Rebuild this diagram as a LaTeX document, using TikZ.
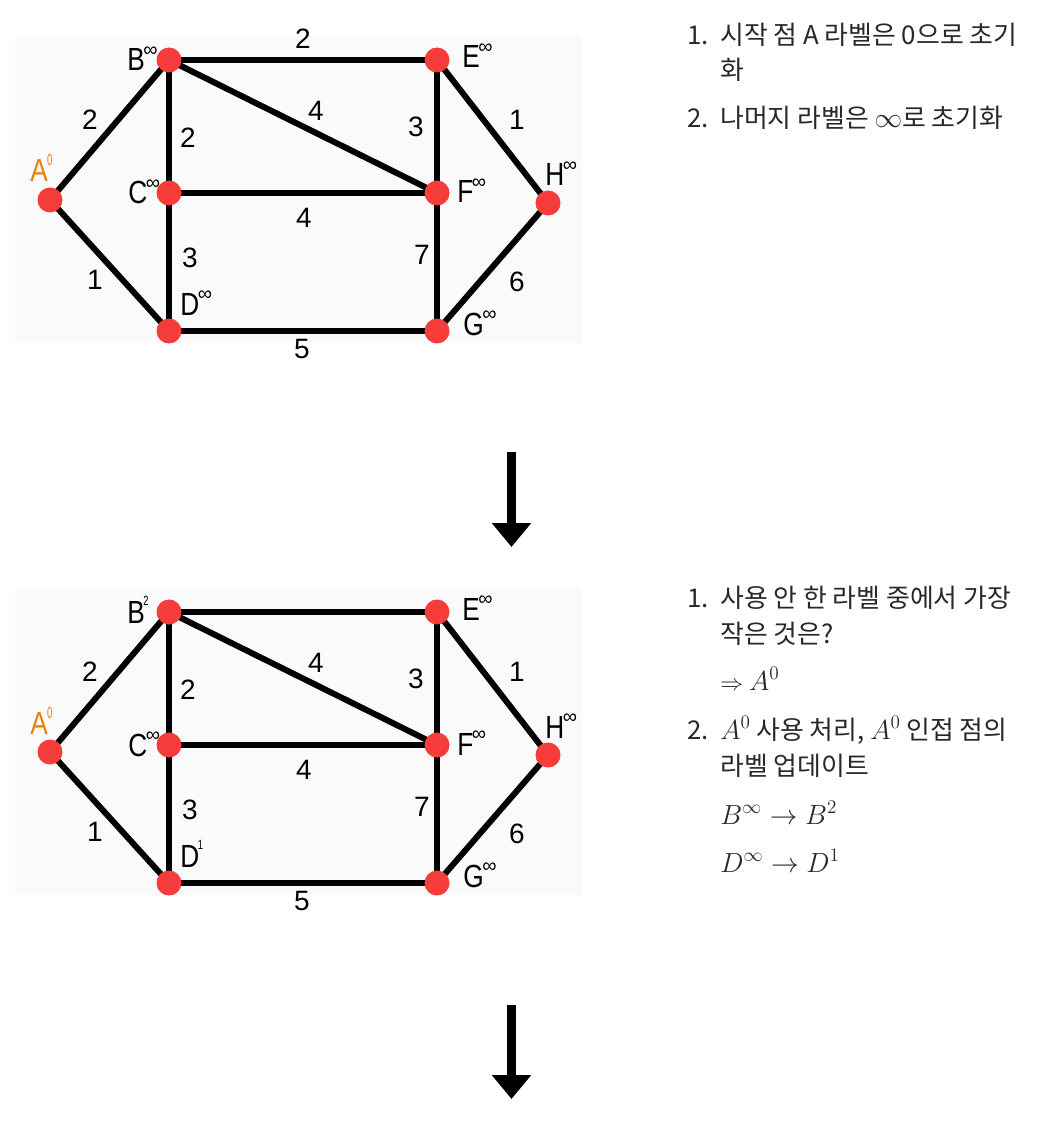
\documentclass[tikz,border=0pt]{standalone}
\usepackage{fontspec}
\usepackage{graphicx}
\usepackage{tikz}
\usetikzlibrary{arrows.meta,positioning,backgrounds}

\newfontfamily\gfont{Liberation Sans}
\newfontfamily\kfont{Noto Sans CJK KR}

\definecolor{vred}{RGB}{246,61,59}
\definecolor{aorange}{RGB}{232,130,14}
\definecolor{panelbg}{RGB}{250,250,250}
\definecolor{txtgray}{RGB}{40,40,40}

% vertex letter (narrowed) and the small raised marks beside it
\newcommand\vl[1]{\scalebox{0.82}[1]{#1}}
\newcommand\sinf{\kern-1pt\raisebox{11pt}{\fontsize{15}{15}\selectfont ∞}}
\newcommand\snum[1]{\kern-1pt\raisebox{13pt}{\fontsize{10}{10}\selectfont\scalebox{0.7}[1]{#1}}}
% math in the notes is set larger than the text
\newcommand\mth[1]{{\fontsize{20.74}{26}\selectfont$#1$}}

\begin{document}
\begin{tikzpicture}[
  x=0.75pt,y=-0.75pt,
  vtx/.style={circle,fill=vred,minimum size=18.75pt,inner sep=0pt},
  link/.style={line width=4.5pt},
  tag/.style={font=\gfont\fontsize{24}{24}\selectfont,anchor=base west,inner sep=0pt},
  wt/.style={font=\gfont\fontsize{21}{21}\selectfont,inner sep=0pt},
  txt/.style={font=\kfont\fontsize{19.4}{22}\selectfont,text=txtgray,anchor=base west,inner sep=0pt},
  bigarrow/.style={line width=6.75pt,-{Triangle[width=28.5pt,length=18pt]}}
]
\useasboundingbox (0,0) rectangle (1042,1123);

% the two graph panels, second one after A^0 is used
\foreach \p/\dy/\bsup/\dsup in {1/0/{\sinf}/{\sinf}, 2/552/{\snum{2}}/{\snum{1}}} {
\begin{scope}[shift={(0,\dy)},name prefix=p\p-]
  \node[vtx] (A) at (50,200) {};
  \node[vtx] (B) at (169,60) {};
  \node[vtx] (C) at (169,193) {};
  \node[vtx] (D) at (169,331) {};
  \node[vtx] (E) at (437,60) {};
  \node[vtx] (F) at (437,193) {};
  \node[vtx] (G) at (437,331) {};
  \node[vtx] (H) at (548,203) {};
  \begin{scope}[on background layer]
    \fill[panelbg] (15,35) rectangle (582,343);
    \foreach \u/\v in {A/B,A/D,B/C,C/D,B/E,B/F,C/F,E/F,F/G,D/G,E/H,G/H}
      \draw[link] (\u.center) -- (\v.center);
  \end{scope}
  \node[tag,text=aorange] (lA) at (30,182) {\vl{A}\kern-0.5pt\raisebox{12pt}{\fontsize{12}{12}\selectfont\scalebox{0.6}[1]{0}}};
  \node[tag] (lB) at (127,71) {\vl{B}\bsup};
  \node[tag] (lC) at (128,204) {\vl{C}\sinf};
  \node[tag] (lD) at (180,315) {\vl{D}\dsup};
  \node[tag] (lE) at (462,68) {\vl{E}\sinf};
  \node[tag] (lF) at (457,203) {\vl{F}\sinf};
  \node[tag] (lG) at (463,335) {\vl{G}\sinf};
  \node[tag] (lH) at (545,186) {\vl{H}\sinf};
  \node[wt] (wAB) at (90,120) {2};
  \node[wt] (wAD) at (95,280) {1};
  \node[wt] (wBC) at (188,138) {2};
  \node[wt] (wCD) at (190,258) {3};
  \ifnum\p=1 \node[wt] (wBE) at (303,39) {2}; \fi
  \node[wt] (wBF) at (316,111) {4};
  \node[wt] (wCF) at (304,218) {4};
  \node[wt] (wEF) at (416,127) {3};
  \node[wt] (wFG) at (422,255) {7};
  \node[wt] (wEH) at (517,120) {1};
  \node[wt] (wGH) at (517,282) {6};
  \node[wt] (wDG) at (302,349) {5};
\end{scope}
}

% notes beside the panels
\node[txt] (n1a) at (687,45) {1.};
\node[txt] (n1b) at (720,45) {시작 점 A 라벨은 0으로 초기};
\node[txt] (n1c) at (720,80) {화};
\node[txt] (n2a) at (687,128) {2.};
\node[txt] (n2b) at (720,128) {나머지 라벨은 \mth{\infty}로 초기화};

\node[txt] (m1a) at (687,607) {1.};
\node[txt] (m1b) at (720,607) {사용 안 한 라벨 중에서 가장};
\node[txt] (m1c) at (720,643) {작은 것은?};
\node[txt] (m1d) at (720,690) {{\fontsize{16}{16}\selectfont$\Rightarrow$}\ \mth{A^0}};
\node[txt] (m2a) at (687,739) {2.};
\node[txt] (m2b) at (720,739) {\mth{A^0} 사용 처리, \mth{A^0} 인접 점의};
\node[txt] (m2c) at (720,775) {라벨 업데이트};
\node[txt] (m2d) at (720,824) {\mth{B^\infty \to B^2}};
\node[txt] (m2e) at (720,872) {\mth{D^\infty \to D^1}};

% step arrows
\coordinate (a1s) at (511.5,452);
\coordinate (a1e) at (511.5,547);
\coordinate (a2s) at (511.5,1005);
\coordinate (a2e) at (511.5,1099);
\draw[bigarrow] (a1s) -- (a1e);
\draw[bigarrow] (a2s) -- (a2e);
\end{tikzpicture}
\end{document}
